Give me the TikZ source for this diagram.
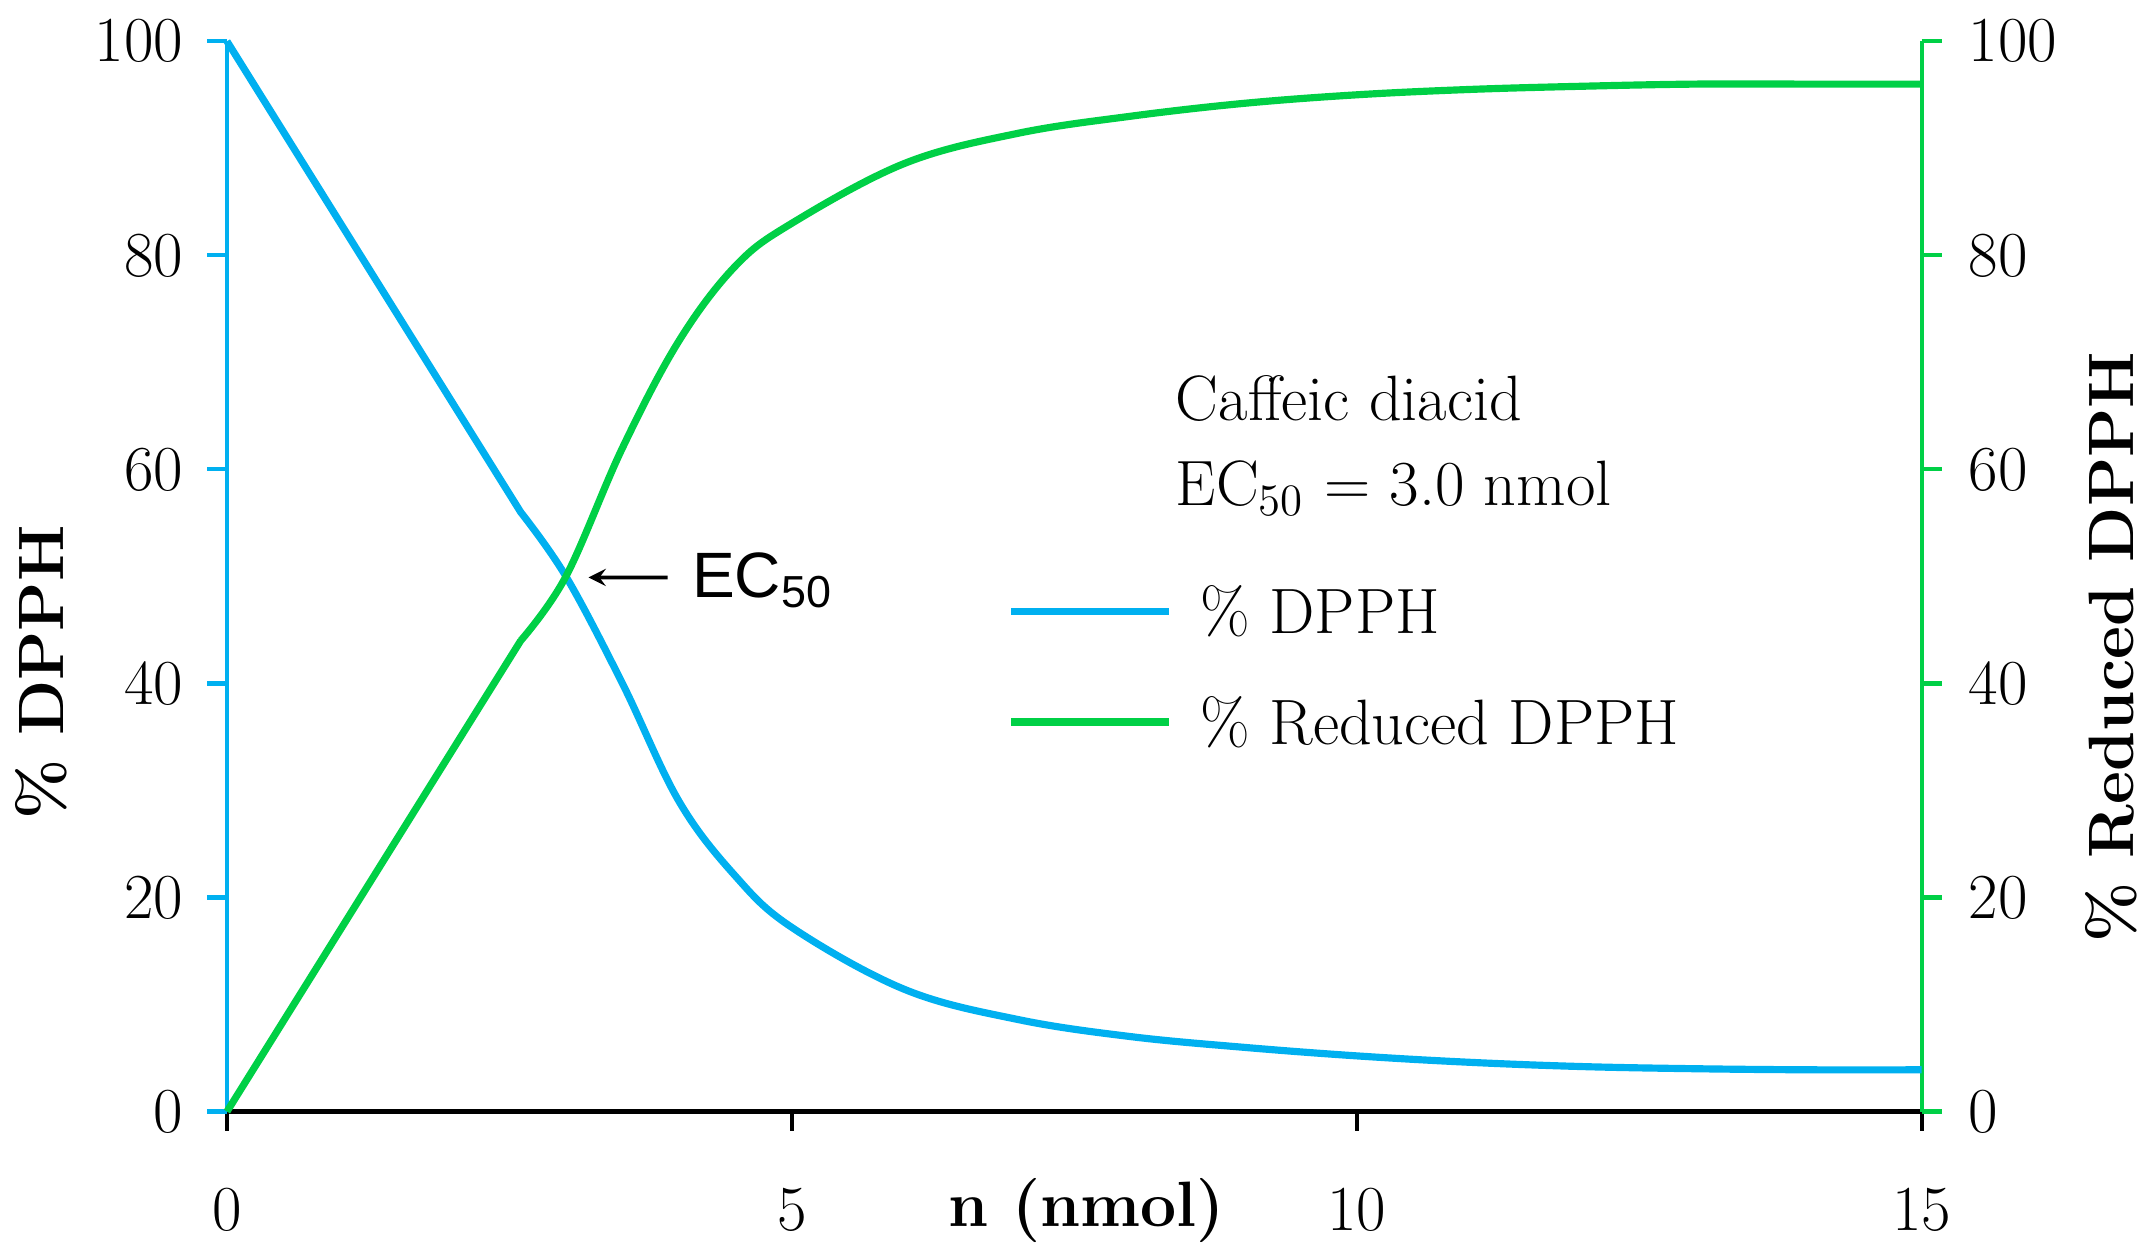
\documentclass[tikz,border=0pt]{standalone}
\usepackage{fontspec}
\newfontfamily\sansf{Liberation Sans}
\definecolor{cblue}{RGB}{0,176,240}
\definecolor{cgreen}{RGB}{0,208,70}
\begin{document}
\begin{tikzpicture}[x=1.053cm,y=0.09974cm,
  lbl/.style={font=\fontsize{17}{20}\selectfont},
  axl/.style={font=\fontsize{17}{20}\selectfont\bfseries},
  curve/.style={line width=1.9pt,line join=round}]
\useasboundingbox (-2.009,-13.37) rectangle (16.985,103.86);
% axes
\draw[line width=1.1pt,black] (0,0) -- (15,0);
\foreach \x in {0,5,10,15}{\draw[line width=1.1pt] (\x,0) -- (\x,-1.8);
  \node[lbl] (bx\x) at (\x,-9.2) {\x};}
\draw[line width=1.1pt,cblue] (0,0) -- (0,100);
\draw[line width=1.1pt,cgreen] (15,0) -- (15,100);
\foreach \y in {0,20,...,100}{
  \draw[line width=1.1pt,cblue] (0,\y) -- (-0.18,\y);
  \draw[line width=1.1pt,cgreen] (15,\y) -- (15.18,\y);
  \node[lbl,anchor=east] (ly\y) at (-0.27,\y) {\y};
  \node[lbl,anchor=west] (ry\y) at (15.3,\y) {\y};}
\node[axl,rotate=90] (yl) at (-1.64,41) {\% DPPH};
\node[axl,rotate=90] (yr) at (16.68,43.4) {\% Reduced DPPH};
\node[axl] (xl) at (7.61,-9.25) {n (nmol)};
% curves
\draw[curve,cblue] (0,100) -- (2.6,56) plot[smooth,tension=0.6] coordinates {(2.6,56)(3,50)(3.5,40)(4,29)(4.5,22)(5,17.2)(6,11.4)(7,8.6)(8,7)(9,6)(10,5.2)(11,4.6)(12,4.2)(13,4)(14,3.9)(15,3.9)};
\draw[curve,cgreen] (0,0) -- (2.6,44) plot[smooth,tension=0.6] coordinates {(2.6,44)(3,50)(3.5,62)(4,72)(4.5,79)(5,83)(6,88.6)(7,91.4)(8,93)(9,94.2)(10,95)(11,95.5)(12,95.8)(13,96)(14,96)(15,96)};
% annotations
\node[lbl,anchor=west] (t1) at (8.28,66.6) {Caffeic diacid};
\node[lbl,anchor=west] (t2) at (8.28,58.2) {EC\textsubscript{50} = 3.0 nmol};
\coordinate (l1a) at (6.94,46.7); \coordinate (l1b) at (8.34,46.7);
\coordinate (l2a) at (6.94,36.4); \coordinate (l2b) at (8.34,36.4);
\draw[curve,cblue] (l1a) -- (l1b);
\draw[curve,cgreen] (l2a) -- (l2b);
\node[lbl,anchor=west] (t3) at (8.5,46.7) {\% DPPH};
\node[lbl,anchor=west] (t4) at (8.5,36.4) {\% Reduced DPPH};
\node[font=\sansf\fontsize{17}{20}\selectfont,anchor=west] (ec) at (4.0,49.6) {EC\textsubscript{50}};
\coordinate (ecp) at (3.2,49.9);
\draw[-stealth,line width=1pt] (ec.west) ++(-0.1,0.3) -- (ecp);
\end{tikzpicture}
\end{document}
